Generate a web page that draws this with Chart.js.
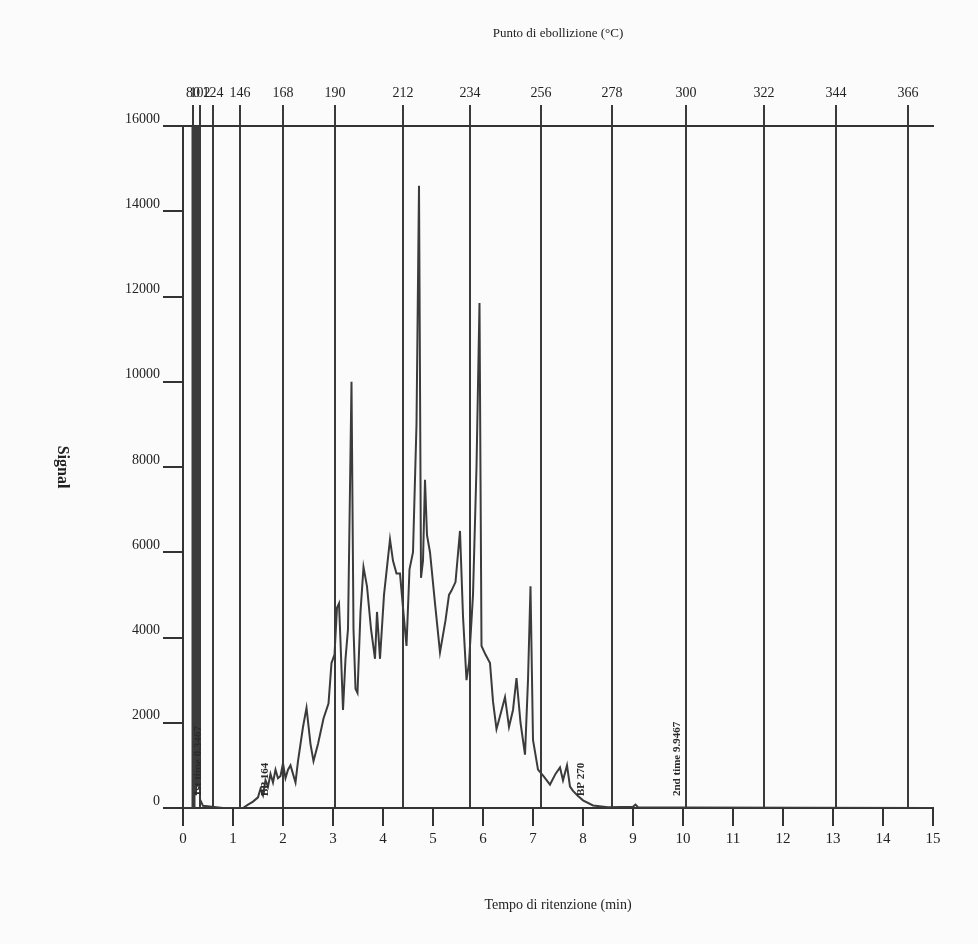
<!DOCTYPE html>
<html>
<head>
<meta charset="utf-8">
<script src="https://cdn.jsdelivr.net/npm/chart.js@4"></script>
<style>
  body { margin: 0; background: #fbfbfb; }
  #wrap { width: 978px; height: 944px; }
</style>
</head>
<body>
<div id="wrap"><canvas id="chart-cromatogramma" width="978" height="944"></canvas></div>
<script>
// retention time (min) and detector signal
var retentionTimes = [
  0, 0.15, 0.18, 0.19, 0.21, 0.23, 0.24, 0.26, 0.28, 0.3, 0.32, 0.34, 0.4, 0.8, 1.2,
  1.3, 1.4, 1.5, 1.55, 1.6, 1.65, 1.7, 1.75, 1.8, 1.85, 1.9, 1.95, 2.0, 2.05, 2.1,
  2.15, 2.2, 2.25, 2.3, 2.4, 2.47, 2.55, 2.61, 2.7, 2.81, 2.91, 2.97, 3.03, 3.08, 3.12,
  3.15, 3.2, 3.25, 3.3, 3.37, 3.41, 3.45, 3.49, 3.55, 3.61, 3.68, 3.76, 3.84, 3.88, 3.94,
  4.02, 4.14, 4.2, 4.27, 4.34, 4.4, 4.47, 4.53, 4.6, 4.67, 4.72, 4.76, 4.8, 4.84, 4.88,
  4.94, 5.04, 5.14, 5.25, 5.32, 5.37, 5.45, 5.54, 5.6, 5.67, 5.72, 5.8, 5.87, 5.93, 5.97,
  6.05, 6.14, 6.2, 6.27, 6.35, 6.44, 6.52, 6.6, 6.67, 6.75, 6.84, 6.9, 6.95, 7.0, 7.1,
  7.21, 7.34, 7.45, 7.54, 7.6, 7.68, 7.74, 7.8, 7.9, 8.0, 8.2, 8.5, 9.0, 9.05, 9.1,
  10, 15
];
var signalValues = [
  0, 0, 0, 40000, 200, 0, 40000, 300, 40000, 500, 40000, 200, 50, 0, 0,
  80, 150, 250, 450, 300, 650, 500, 800, 600, 900, 700, 750, 1050, 700, 900,
  1000, 800, 600, 1100, 1900, 2350, 1500, 1100, 1500, 2100, 2450, 3400, 3600, 4700, 4800,
  3900, 2300, 3500, 4200, 10000, 4200, 2800, 2700, 4600, 5650, 5200, 4200, 3500, 4600, 3500,
  5000, 6300, 5800, 5500, 5500, 4700, 3800, 5600, 6000, 9000, 14600, 5400, 5800, 7700, 6400,
  6000, 4800, 3650, 4400, 5000, 5100, 5300, 6500, 4500, 3000, 3400, 5000, 8000, 11850, 3800,
  3600, 3400, 2500, 1850, 2200, 2600, 1900, 2300, 3050, 2000, 1250, 3000, 5200, 1600, 900,
  750, 550, 800, 950, 650, 1000, 500, 400, 280, 180, 60, 20, 30, 80, 20,
  10, 0
];

// boiling point marks (top axis)
var bpTimes = [0.2, 0.34, 0.6, 1.14, 2.0, 3.04, 4.4, 5.74, 7.16, 8.58, 10.06, 11.62, 13.06, 14.5];
var bpLabels = ["80", "102", "124", "146", "168", "190", "212", "234", "256", "278", "300", "322", "344", "366"];

// notes written on the trace
var noteTimes = [0.3, 1.64, 7.96, 9.88];
var noteTexts = ["1st time 0.3467", "BP 164", "BP 270", "2nd time 9.9467"];

var serif = "Liberation Serif";
var ink = "#333333";

var notesPlugin = {
  id: "notes",
  afterDatasetsDraw: function (chart) {
    var c = chart.ctx;
    var xs = chart.scales.x;
    var bottom = chart.chartArea.bottom;
    c.save();
    c.fillStyle = "#2a2a2a";
    c.font = "bold 11px " + serif;
    c.textAlign = "left";
    c.textBaseline = "middle";
    noteTimes.forEach(function (t, i) {
      c.save();
      c.translate(xs.getPixelForValue(t), bottom - 12);
      c.rotate(-Math.PI / 2);
      c.fillText(noteTexts[i], 0, 0);
      c.restore();
    });
    // y axis title, written top to bottom
    c.save();
    c.translate(62, (chart.chartArea.top + chart.chartArea.bottom) / 2);
    c.rotate(Math.PI / 2);
    c.font = "bold 16px " + serif;
    c.fillStyle = "#222";
    c.textAlign = "center";
    c.fillText("Signal", 0, 0);
    c.restore();
    c.restore();
  },
};

var ctx = document.getElementById("chart-cromatogramma").getContext("2d");

new Chart(ctx, {
  type: "line",
  data: {
    datasets: [
      {
        label: "Signal",
        data: retentionTimes.map(function (t, i) {
          return { x: t, y: signalValues[i] };
        }),
        borderColor: "#3b3b3b",
        borderWidth: 2,
        pointRadius: 0,
        tension: 0,
        xAxisID: "x",
        yAxisID: "y",
      },
    ],
  },
  options: {
    responsive: false,
    animation: false,
    layout: {
      padding: { left: 0, right: 45, top: 0, bottom: 0 },
    },
    plugins: {
      legend: { display: false },
      tooltip: { enabled: false },
    },
    scales: {
      x: {
        type: "linear",
        position: "bottom",
        min: 0,
        max: 15,
        afterFit: function (scale) {
          scale.height = 136;
        },
        border: { display: true, color: ink, width: 2 },
        grid: {
          drawOnChartArea: false,
          drawTicks: true,
          tickLength: 18,
          color: ink,
          lineWidth: 2,
        },
        ticks: {
          stepSize: 1,
          padding: 4,
          color: "#222",
          font: { family: serif, size: 15 },
        },
        title: {
          display: true,
          text: "Tempo di ritenzione (min)",
          color: "#222",
          padding: { top: 0, bottom: 30 },
          font: { family: serif, size: 14 },
        },
      },
      x2: {
        type: "linear",
        position: "top",
        min: 0,
        max: 15,
        afterFit: function (scale) {
          scale.height = 126;
        },
        afterBuildTicks: function (scale) {
          scale.ticks = bpTimes.map(function (v) {
            return { value: v };
          });
        },
        border: { display: true, color: ink, width: 2 },
        grid: {
          drawOnChartArea: true,
          drawTicks: true,
          tickLength: 21,
          color: "#3a3a3a",
          lineWidth: 2,
        },
        ticks: {
          autoSkip: false,
          maxRotation: 0,
          padding: 3,
          color: "#222",
          font: { family: serif, size: 14 },
          callback: function (value, index) {
            return bpLabels[index];
          },
        },
        title: {
          display: true,
          text: "Punto di ebollizione (°C)",
          color: "#222",
          padding: { top: 26, bottom: 0 },
          font: { family: serif, size: 13 },
        },
      },
      y: {
        min: 0,
        max: 16000,
        afterFit: function (scale) {
          scale.width = 183;
        },
        border: { display: true, color: ink, width: 2 },
        grid: {
          drawOnChartArea: false,
          drawTicks: true,
          tickLength: 20,
          color: ink,
          lineWidth: 2,
        },
        ticks: {
          stepSize: 2000,
          padding: 3,
          labelOffset: -7,
          color: "#222",
          font: { family: serif, size: 14 },
          callback: function (value) {
            return String(value);
          },
        },
      },
    },
  },
  plugins: [notesPlugin],
});
</script>
</body>
</html>
